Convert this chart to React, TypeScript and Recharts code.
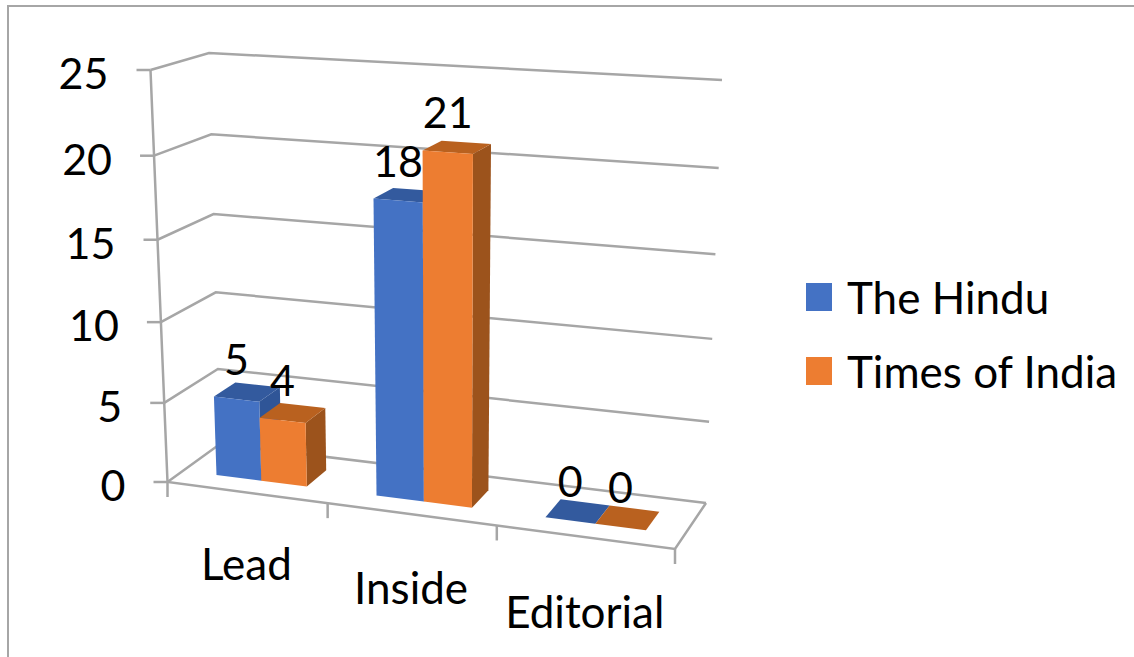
import React from "react";
import { BarChart, Bar, XAxis, YAxis, CartesianGrid, LabelList, Legend } from "recharts";

const categories = ["Lead", "Inside", "Editorial"];
const hinduValues = [5, 18, 0];
const timesValues = [4, 21, 0];
const yTicks = [0, 5, 10, 15, 20, 25];

const data = categories.map((name, i) => ({
  name,
  hindu: hinduValues[i],
  times: timesValues[i],
}));

// where the flat plot sits inside the svg, projected onto the 3d box below
const PLOT = { x: 150, y: 70, w: 525, h: 412 };
const GRID = "#a6a6a6";
const FONT = "Lato, sans-serif";
const NUM_SIZE = 43;
const TEXT_SIZE = 44;
const DEPTH_FRONT = 0.3;
const DEPTH_BACK = 0.71;

type Pt = [number, number];

// box corners as seen on screen: f/b front/back, l/r left/right, 0/1 floor/top
const fl0: Pt = [167.5, 482];
const fr0: Pt = [675, 549];
const bl0: Pt = [220, 444];
const br0: Pt = [706, 503];
const fl1: Pt = [150.5, 70];
const fr1: Pt = [687, 104];
const bl1: Pt = [209, 53];
const br1: Pt = [722, 80];

const mix = (a: Pt, b: Pt, t: number): Pt => [a[0] + (b[0] - a[0]) * t, a[1] + (b[1] - a[1]) * t];

// small correction for perspective
const warpU = (u: number) => 0.92 * u + 0.08 * u * u;
const warpV = (v: number) => v - 0.05 * v * (1 - v);

function project(u: number, v: number, d: number): Pt {
  const uu = warpU(u);
  const vv = warpV(v);
  const floor = mix(mix(fl0, fr0, uu), mix(bl0, br0, uu), d);
  const top = mix(mix(fl1, fr1, uu), mix(bl1, br1, uu), d);
  return mix(floor, top, vv);
}

const toU = (x: number) => (x - PLOT.x) / PLOT.w;
const toV = (y: number) => (PLOT.y + PLOT.h - y) / PLOT.h;
const poly = (pts: Pt[]) => pts.map((p) => p.join(",")).join(" ");

function GridLine(props: any) {
  const v = toV(props.y1);
  const a = project(0, v, 0);
  const b = project(0, v, 1);
  const c = project(1, v, 1);
  const isFloor = Math.abs(v) < 0.001;
  return (
    <g fill="none" stroke={GRID} strokeWidth={2.5}>
      <polyline points={poly([a, b, c])} />
      {isFloor && (
        <polyline points={poly([project(1, 0, 1), project(1, 0, 0), project(0, 0, 0), project(0, 1, 0)])} />
      )}
    </g>
  );
}

function YTick(props: any) {
  const p = project(0, toV(props.y), 0);
  return (
    <g>
      <line x1={p[0] - 14} x2={p[0]} y1={p[1]} y2={p[1]} stroke={GRID} strokeWidth={2.5} />
      <text x={p[0] - 42} y={p[1] + 4} dy=".35em" textAnchor="end" fontFamily={FONT} fontSize={NUM_SIZE} fill="#000">
        {props.payload.value}
      </text>
    </g>
  );
}

function XTick(props: any) {
  const u = toU(props.x);
  const band = 1 / categories.length;
  const mark = (uu: number) => {
    const p = project(uu, 0, 0);
    return <line x1={p[0]} x2={p[0]} y1={p[1]} y2={p[1] + 15} stroke={GRID} strokeWidth={2.5} />;
  };
  const c = project(u, 0, 0);
  return (
    <g>
      {mark(u - band / 2)}
      {props.index === categories.length - 1 && mark(u + band / 2)}
      <text x={c[0]} y={c[1] + 71 + u * 6} dy=".35em" textAnchor="middle" fontFamily={FONT} fontSize={TEXT_SIZE} fill="#000">
        {props.payload.value}
      </text>
    </g>
  );
}

function Box3D(props: any) {
  const { x, y, width, height, fill, topFill, sideFill } = props;
  const u0 = toU(x);
  const u1 = toU(x + width);
  const v0 = toV(y + height);
  const v1 = toV(y);
  const at = (u: number, v: number, d: number) => project(u, v, d);
  return (
    <g>
      <polygon
        fill={sideFill}
        points={poly([at(u1, v0, DEPTH_FRONT), at(u1, v0, DEPTH_BACK), at(u1, v1, DEPTH_BACK), at(u1, v1, DEPTH_FRONT)])}
      />
      <polygon
        fill={topFill}
        points={poly([at(u0, v1, DEPTH_FRONT), at(u1, v1, DEPTH_FRONT), at(u1, v1, DEPTH_BACK), at(u0, v1, DEPTH_BACK)])}
      />
      <polygon
        fill={fill}
        points={poly([at(u0, v0, DEPTH_FRONT), at(u1, v0, DEPTH_FRONT), at(u1, v1, DEPTH_FRONT), at(u0, v1, DEPTH_FRONT)])}
      />
    </g>
  );
}

function BarValue(props: any) {
  const { x, y, width, value } = props;
  const p = project(toU(x + width / 2), toV(y), DEPTH_FRONT);
  return (
    <text x={p[0]} y={p[1] - 39} dy=".35em" textAnchor="middle" fontFamily={FONT} fontSize={NUM_SIZE} fill="#000">
      {value}
    </text>
  );
}

function LegendBox(props: any) {
  return (
    <div style={{ fontFamily: FONT, fontSize: TEXT_SIZE, color: "#000" }}>
      {props.payload.map((item: any) => (
        <div key={item.value} style={{ display: "flex", alignItems: "center", height: 74 }}>
          <span style={{ width: 26, height: 28, background: item.color, marginRight: 15 }} />
          <span style={{ whiteSpace: "nowrap" }}>{item.value}</span>
        </div>
      ))}
    </div>
  );
}

export default function App() {
  return (
    <div style={{ position: "absolute", left: 0, top: 0, width: 1134, height: 657, overflow: "hidden", background: "#fff" }}>
      <div style={{ position: "absolute", left: 7, top: 5, right: 0, bottom: 0, borderTop: `2.5px solid ${GRID}`, borderLeft: `2.5px solid ${GRID}` }} />
      <BarChart
        width={1134}
        height={657}
        data={data}
        barCategoryGap="21.5%"
        barGap={0}
        margin={{ top: PLOT.y, right: 1134 - PLOT.x - PLOT.w, bottom: 657 - PLOT.y - PLOT.h - 30, left: PLOT.x - 40 }}
        style={{ position: "absolute", left: 0, top: 0 }}
      >
        <CartesianGrid vertical={false} horizontal={GridLine} />
        <XAxis dataKey="name" height={30} axisLine={false} tickLine={false} tick={XTick} interval={0} />
        <YAxis width={40} domain={[0, 25]} ticks={yTicks} axisLine={false} tickLine={false} tick={YTick} interval={0} />
        <Legend
          layout="vertical"
          align="center"
          verticalAlign="middle"
          content={LegendBox}
          wrapperStyle={{ left: 806, top: 260, width: 328 }}
        />
        <Bar
          dataKey="hindu"
          name="The Hindu"
          fill="#4472c4"
          isAnimationActive={false}
          shape={(p: any) => <Box3D {...p} topFill="#335a9e" sideFill="#2f5597" />}
        >
          <LabelList dataKey="hindu" content={BarValue} />
        </Bar>
        <Bar
          dataKey="times"
          name="Times of India"
          fill="#ed7d31"
          isAnimationActive={false}
          shape={(p: any) => <Box3D {...p} topFill="#b9611f" sideFill="#9c531c" />}
        >
          <LabelList dataKey="times" content={BarValue} />
        </Bar>
      </BarChart>
    </div>
  );
}
